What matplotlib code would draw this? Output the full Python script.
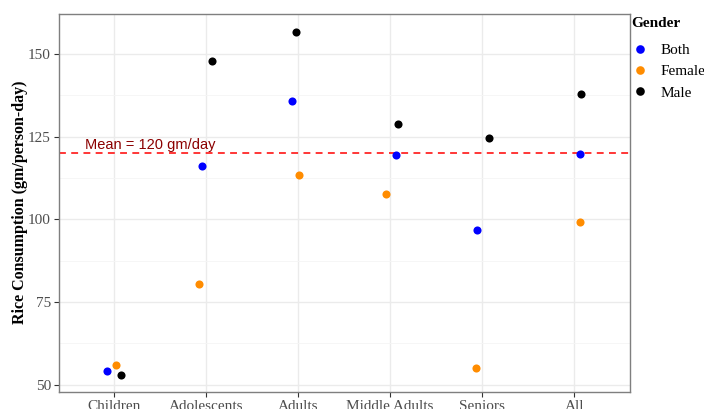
import numpy as np
import matplotlib
matplotlib.use("Agg")
import matplotlib.pyplot as plt
from matplotlib.lines import Line2D

# Rice consumption (gm/person-day) by age group and gender
groups = ["Children", "Adolescents", "Adults", "Middle Adults", "Seniors", "All"]
genders = ["Both", "Female", "Male"]
both = [54.2, 116.0, 135.8, 119.3, 96.9, 119.7]
female = [56.1, 80.5, 113.3, 107.7, 55.1, 99.2]
male = [52.9, 147.8, 156.7, 128.8, 124.7, 138.0]
mean_value = 120

# horizontal jitter applied to each point (category units)
jitter_both = [-0.076, -0.040, -0.062, 0.068, -0.052, 0.065]
jitter_female = [0.020, -0.076, 0.007, -0.041, -0.071, 0.058]
jitter_male = [0.080, 0.072, -0.026, 0.086, 0.078, 0.072]

colors = {"Both": "#0000FF", "Female": "#FF8C00", "Male": "#000000"}
series = {"Both": (both, jitter_both), "Female": (female, jitter_female), "Male": (male, jitter_male)}

serif = ["Liberation Serif", "DejaVu Serif"]
sans = ["Liberation Sans", "DejaVu Sans"]

fig = plt.figure(figsize=(7.04, 4.09), dpi=100)
ax = fig.add_axes([58.5 / 704, 17 / 409, (629.5 - 58.5) / 704, (395.5 - 17) / 409])

x = np.arange(len(groups))
for g in genders:
    vals, jit = series[g]
    ax.scatter(x + np.array(jit), vals, s=34, color=colors[g], zorder=3, linewidths=0)

ax.axhline(mean_value, color="#FF0000", lw=1.1, ls=(0, (4.5, 3.5)), zorder=2)
ax.text(0.4, mean_value + 2.6, "Mean = 120 gm/day", color="#8B0000",
        family=sans, fontsize=10.5, ha="center", va="center", zorder=4)

ax.set_xlim(-0.6, len(groups) - 0.4)
ax.set_ylim(47.8, 162.2)
ax.set_xticks(x)
ax.set_xticklabels(groups)
ax.set_yticks([50, 75, 100, 125, 150])
ax.set_yticks([62.5, 87.5, 112.5, 137.5], minor=True)
ax.set_xticks([], minor=True)

ax.grid(True, which="major", color="#EBEBEB", lw=1.0, zorder=0)
ax.grid(True, which="minor", axis="y", color="#F5F5F5", lw=0.6, zorder=0)
ax.set_axisbelow(True)

for sp in ax.spines.values():
    sp.set_color("#7F7F7F")
    sp.set_linewidth(1.0)

ax.tick_params(axis="both", which="major", length=3.5, width=0.8, color="#333333",
               labelcolor="#4D4D4D", labelsize=11, pad=2)
ax.tick_params(axis="both", which="minor", length=0)
for lab in ax.get_xticklabels() + ax.get_yticklabels():
    lab.set_family(serif)

ax.set_ylabel("Rice Consumption (gm/person-day)", family=serif, fontsize=11.5,
              fontweight="bold", labelpad=0)

handles = [Line2D([], [], ls="none", marker="o", markersize=6.2, markeredgewidth=0,
                  color=colors[g]) for g in genders]
leg = ax.legend(handles, genders, loc="upper left", bbox_to_anchor=(1.003, 0.992),
                frameon=False, title="Gender", borderaxespad=0, borderpad=0.0,
                handlelength=1.2, handletextpad=0.7, labelspacing=0.5,
                prop={"family": serif, "size": 11},
                title_fontproperties={"family": serif, "size": 11, "weight": "bold"})
leg._legend_box.align = "left"
leg._legend_box.sep = 10.0

fig.savefig("out.png", dpi=100)
